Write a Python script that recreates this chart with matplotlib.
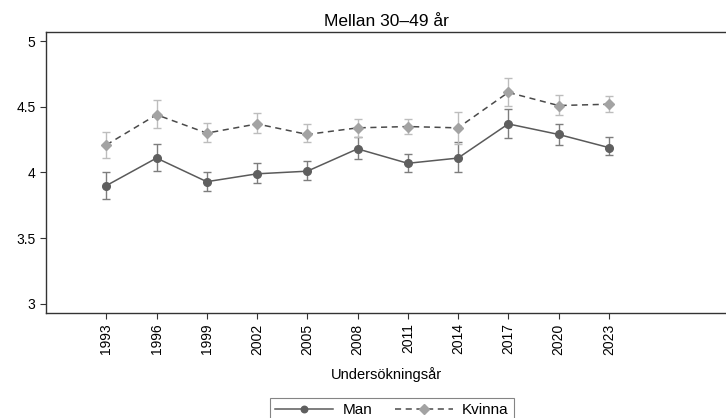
import matplotlib
matplotlib.use("Agg")
import matplotlib.pyplot as plt

plt.rcParams['font.family'] = ['Liberation Sans', 'DejaVu Sans']

years = [1993, 1996, 1999, 2002, 2005, 2008, 2011, 2014, 2017, 2020, 2023]

man_mean = [3.90, 4.11, 3.93, 3.99, 4.01, 4.18, 4.07, 4.11, 4.37, 4.29, 4.19]
man_low = [3.80, 4.01, 3.86, 3.92, 3.94, 4.10, 4.00, 4.00, 4.26, 4.21, 4.13]
man_high = [4.00, 4.22, 4.00, 4.07, 4.09, 4.27, 4.14, 4.23, 4.48, 4.37, 4.27]

kvinna_mean = [4.21, 4.44, 4.30, 4.37, 4.29, 4.34, 4.35, 4.34, 4.61, 4.51, 4.52]
kvinna_low = [4.11, 4.34, 4.23, 4.30, 4.23, 4.27, 4.29, 4.22, 4.51, 4.44, 4.46]
kvinna_high = [4.31, 4.55, 4.38, 4.45, 4.37, 4.41, 4.41, 4.46, 4.72, 4.59, 4.58]

y_ticks = [3, 3.5, 4, 4.5, 5]
y_labels = ['3', '3.5', '4', '4.5', '5']


def plotSeries(ax, mean, low, high, lineColor, markColor, barColor, marker, ms, ls, label):
    err = [[m - l for m, l in zip(mean, low)], [h - m for m, h in zip(mean, high)]]
    ax.errorbar(years, mean, yerr=err, fmt='none', ecolor=barColor,
                elinewidth=1.0, capsize=3, capthick=1.0, zorder=2)
    line, = ax.plot(years, mean, color=lineColor, linestyle=ls, linewidth=1.1,
                    marker=marker, markersize=ms, markerfacecolor=markColor,
                    markeredgecolor=markColor, label=label, zorder=3)
    return line


fig = plt.figure(figsize=(7.26, 4.18), dpi=100)
ax = fig.add_axes([46 / 726, 1 - 313 / 418, (726 - 46) / 726, (313 - 32) / 418])

manLine = plotSeries(ax, man_mean, man_low, man_high, '#5a5a5a', '#5f5f5f', '#7d7d7d',
                     'o', 5.5, '-', 'Man')
kvLine = plotSeries(ax, kvinna_mean, kvinna_low, kvinna_high, '#4a4a4a', '#a3a3a3', '#bdbdbd',
                    'D', 5.5, (0, (4, 3)), 'Kvinna')

ax.set_xlim(1989.4, 2030.0)
ax.set_ylim(2.93, 5.07)
ax.set_xticks(years)
ax.set_xticklabels([str(y) for y in years], rotation=90, fontsize=10)
ax.set_yticks(y_ticks)
ax.set_yticklabels(y_labels, fontsize=10)
ax.tick_params(axis='both', direction='out', length=4, width=0.8, colors='#333333',
               labelcolor='black', pad=3.5)

for side in ['left', 'bottom', 'top']:
    ax.spines[side].set_color('#333333')
    ax.spines[side].set_linewidth(1.0)
ax.spines['right'].set_visible(False)

ax.set_title('Mellan 30–49 år', fontsize=12.5, pad=4)
ax.set_xlabel('Undersökningsår', fontsize=10.5, labelpad=9)

leg = fig.legend(handles=[manLine, kvLine], loc='upper center',
                 bbox_to_anchor=(392 / 726, 1 - 390 / 418), ncol=2,
                 fontsize=11, frameon=True, fancybox=False, handlelength=3.8,
                 handletextpad=0.6, columnspacing=1.5, borderpad=0.35,
                 markerscale=0.85)
leg.get_frame().set_edgecolor('#666666')
leg.get_frame().set_linewidth(0.8)

fig.savefig('out.png', dpi=100)
